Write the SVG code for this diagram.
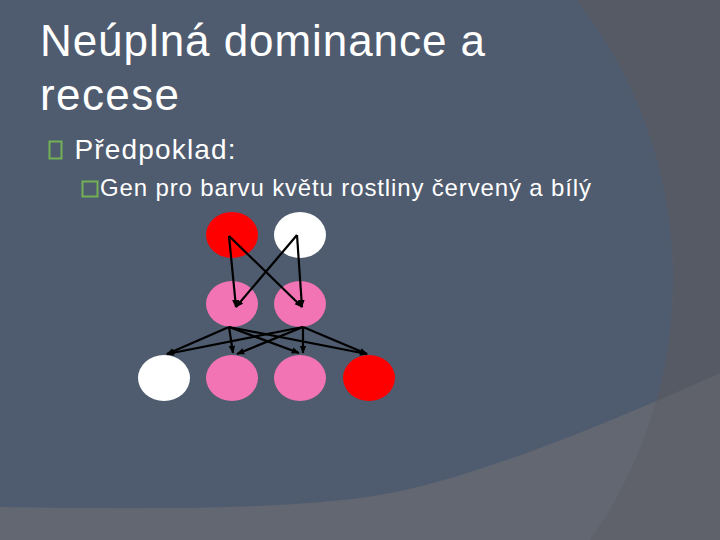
<svg xmlns="http://www.w3.org/2000/svg" width="720" height="540" viewBox="0 0 720 540">
  <defs>
    <style>
      .t { font-family: "Liberation Sans", Arial, sans-serif; fill: #ffffff; }
      .box { fill: none; stroke: #72b255; stroke-width: 2; }
      .con { stroke: #000000; stroke-width: 2.2; fill: none; marker-end: url(#ah); }
    </style>
    <marker id="ah" viewBox="0 0 10 10" refX="9" refY="5" markerWidth="8" markerHeight="8" markerUnits="userSpaceOnUse" orient="auto">
      <path d="M0,1 L10,5 L0,9 Z" fill="#000000"/>
    </marker>
    <clipPath id="upper">
      <path d="M0,0 H720 V373 C560,445 440,488 360,498 C260,510 150,509 0,507 Z"/>
    </clipPath>
  </defs>

  <!-- background -->
  <rect x="0" y="0" width="720" height="540" fill="#5f626a"/>
  <path d="M0,0 H720 V373 C560,445 440,488 360,498 C260,510 150,509 0,507 Z" fill="#555a65"/>
  <circle cx="221" cy="279" r="452" fill="#636772"/>
  <circle cx="221" cy="279" r="452" fill="#4f5b6e" clip-path="url(#upper)"/>

  <!-- texts -->
  <text class="t" x="40" y="56" font-size="44" textLength="445" lengthAdjust="spacing">Neúplná dominance a</text>
  <text class="t" x="40" y="110" font-size="44" textLength="139" lengthAdjust="spacing">recese</text>
  <rect class="box" x="49.5" y="141.5" width="12" height="17"/>
  <text class="t" x="74.5" y="159" font-size="28" textLength="161" lengthAdjust="spacing">Předpoklad:</text>
  <rect class="box" x="82.5" y="181.5" width="15" height="15"/>
  <text class="t" x="100" y="196" font-size="24" textLength="491" lengthAdjust="spacing">Gen pro barvu květu rostliny červený a bílý</text>

  <!-- nodes -->
  <g id="p-red"><ellipse cx="232" cy="235" rx="26" ry="23" fill="#ff0000"/></g>
  <g id="p-white"><ellipse cx="300" cy="235" rx="26" ry="23" fill="#ffffff"/></g>
  <g id="f1-left"><ellipse cx="232" cy="304" rx="26" ry="23" fill="#f274b4"/></g>
  <g id="f1-right"><ellipse cx="300" cy="304" rx="26" ry="23" fill="#f274b4"/></g>
  <g id="f2-white"><ellipse cx="164" cy="378" rx="26" ry="23" fill="#ffffff"/></g>
  <g id="f2-pink1"><ellipse cx="232" cy="378" rx="26" ry="23" fill="#f274b4"/></g>
  <g id="f2-pink2"><ellipse cx="300" cy="378" rx="26" ry="23" fill="#f274b4"/></g>
  <g id="f2-red"><ellipse cx="369" cy="378" rx="26" ry="23" fill="#ff0000"/></g>

  <!-- connectors -->
  <g id="connectors">
    <line class="con" x1="229" y1="236" x2="236" y2="307"/>
    <line class="con" x1="229" y1="236" x2="302" y2="307"/>
    <line class="con" x1="297" y1="235" x2="236" y2="307"/>
    <line class="con" x1="297" y1="235" x2="302" y2="307"/>
    <line class="con" x1="229" y1="327" x2="167" y2="354"/>
    <line class="con" x1="229" y1="327" x2="233" y2="353"/>
    <line class="con" x1="229" y1="327" x2="299" y2="353"/>
    <line class="con" x1="229" y1="327" x2="367" y2="354"/>
    <line class="con" x1="303" y1="327" x2="167" y2="354"/>
    <line class="con" x1="303" y1="327" x2="237" y2="354"/>
    <line class="con" x1="303" y1="327" x2="303" y2="353"/>
    <line class="con" x1="303" y1="327" x2="367" y2="354"/>
  </g>
</svg>
